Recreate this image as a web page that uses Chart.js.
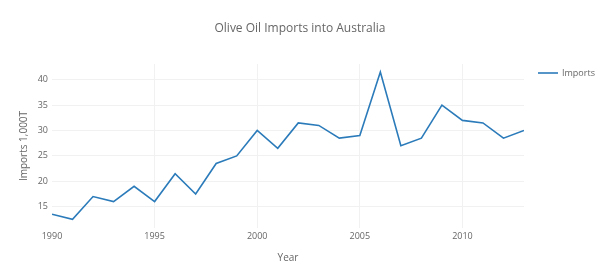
<!DOCTYPE html>
<html>
<head>
<meta charset="utf-8">
<script src="https://cdn.jsdelivr.net/npm/chart.js@4"></script>
<style>
  html, body { margin: 0; padding: 0; background: #fff; }
  #wrap { width: 600px; height: 279px; }
</style>
</head>
<body>
<div id="wrap"><canvas id="chart" width="600" height="279"></canvas></div>
<script>
const years = [1990, 1991, 1992, 1993, 1994, 1995, 1996, 1997, 1998, 1999, 2000, 2001,
               2002, 2003, 2004, 2005, 2006, 2007, 2008, 2009, 2010, 2011, 2012, 2013];
const imports = [13.5, 12.5, 17, 16, 19, 16, 21.5, 17.5, 23.5, 25, 30, 26.5,
                 31.5, 31, 28.5, 29, 41.5, 27, 28.5, 35, 32, 31.5, 28.5, 30];
const xTicks = [1990, 1995, 2000, 2005, 2010];
const yTicks = [15, 20, 25, 30, 35, 40];

const textColor = '#666';
const gridColor = '#f1f1f1';
const lineColor = '#2b7bba';
const font = '"Open Sans", sans-serif';

// title + legend drawn on the canvas, plotly style
const extras = {
    id: 'extras',
    afterDraw(chart) {
        const ctx = chart.ctx;
        ctx.save();
        ctx.fillStyle = textColor;
        ctx.font = '12px ' + font;
        ctx.textAlign = 'center';
        ctx.textBaseline = 'middle';
        ctx.fillText('Olive Oil Imports into Australia', 300, 29);

        const ds = chart.data.datasets[0];
        const lx = chart.chartArea.right + 14;
        const ly = 73;
        ctx.strokeStyle = ds.borderColor;
        ctx.lineWidth = 1.6;
        ctx.beginPath();
        ctx.moveTo(lx, ly);
        ctx.lineTo(lx + 20, ly);
        ctx.stroke();
        ctx.font = '9px ' + font;
        ctx.textAlign = 'left';
        ctx.fillText(ds.label, lx + 24, ly);
        ctx.restore();
    }
};

new Chart(document.getElementById('chart'), {
    type: 'line',
    data: {
        datasets: [{
            label: 'Imports',
            data: years.map((y, i) => ({ x: y, y: imports[i] })),
            borderColor: lineColor,
            borderWidth: 1.6,
            pointRadius: 0,
            tension: 0,
            fill: false
        }]
    },
    options: {
        responsive: false,
        animation: false,
        layout: { padding: { left: 0, right: 76, top: 64, bottom: 0 } },
        plugins: {
            legend: { display: false },
            title: { display: false },
            tooltip: { enabled: false }
        },
        scales: {
            x: {
                type: 'linear',
                min: 1990,
                max: 2013,
                afterFit: s => { s.height = 51; },
                afterBuildTicks: s => { s.ticks = xTicks.map(v => ({ value: v })); },
                border: { display: false },
                grid: {
                    color: c => (c.tick && c.tick.value === 1990) ? 'rgba(0,0,0,0)' : gridColor,
                    drawTicks: false
                },
                ticks: {
                    color: textColor, font: { family: font, size: 9 }, padding: 3, maxRotation: 0,
                    callback: v => String(v)
                },
                title: {
                    display: true, text: 'Year', color: textColor,
                    font: { family: font, size: 10 },
                    padding: { top: 15, bottom: 15 }
                }
            },
            y: {
                min: 10.8,
                max: 43.1,
                afterFit: s => { s.width = 52; },
                afterBuildTicks: s => { s.ticks = yTicks.map(v => ({ value: v })); },
                border: { display: false },
                grid: { color: gridColor, drawTicks: false },
                ticks: { color: textColor, font: { family: font, size: 9 }, padding: 4 },
                title: {
                    display: true, text: 'Imports 1,000T', color: textColor,
                    font: { family: font, size: 10 },
                    padding: { top: 18, bottom: 18 }
                }
            }
        }
    },
    plugins: [extras]
});
</script>
</body>
</html>
